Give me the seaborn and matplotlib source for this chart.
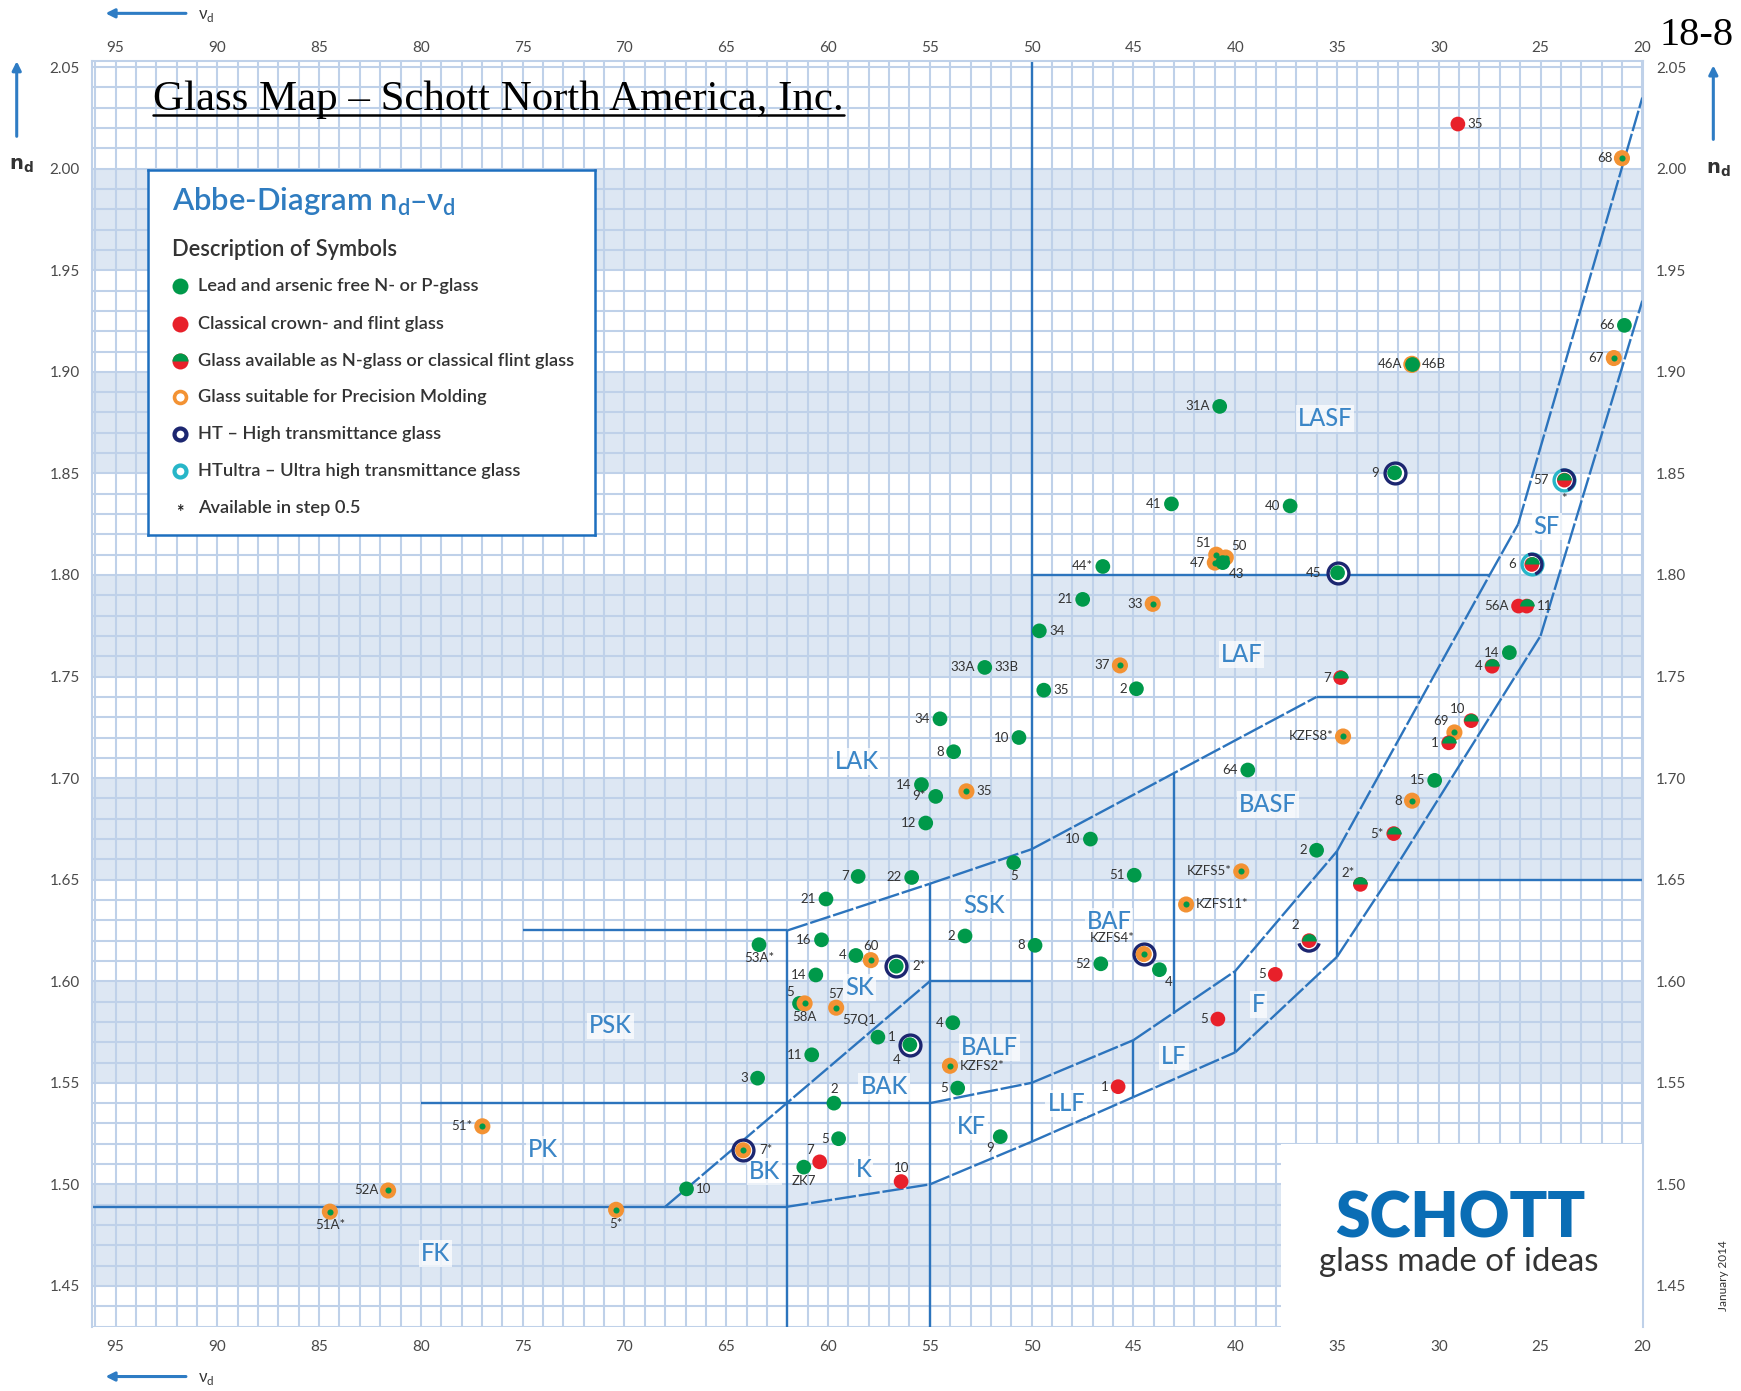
import numpy as np
import pandas as pd
import matplotlib
matplotlib.use("Agg")
import matplotlib.pyplot as plt
import seaborn as sns
from matplotlib.path import Path
from matplotlib.patches import Rectangle, FancyArrowPatch
from matplotlib.lines import Line2D
from matplotlib.ticker import FixedLocator, MultipleLocator, FormatStrFormatter

# ---------------------------------------------------------------- data
vd_ticks = [95, 90, 85, 80, 75, 70, 65, 60, 55, 50, 45, 40, 35, 30, 25, 20]
nd_ticks = [1.45, 1.50, 1.55, 1.60, 1.65, 1.70, 1.75, 1.80, 1.85, 1.90, 1.95, 2.00, 2.05]
band_starts = [1.45, 1.55, 1.65, 1.75, 1.85, 1.95]

glass_label = ["35", "68", "66", "67", "46A", "31A", "9", "57", "41", "40", "44*",
               "51", "47", "50", "43", "45", "6", "56A", "11", "21", "33", "34", "14",
               "4", "33A", "37", "7", "35", "2", "34", "10", "69", "1", "KZFS8*", "10",
               "8", "64", "15", "14", "9*", "35", "8", "12", "5*", "10", "2", "5", "7",
               "22", "KZFS5*", "51", "2*", "21", "KZFS11*", "2", "16", "53A*", "8", "2",
               "4", "60", "2*", "KZFS4*", "52", "4", "14", "5", "5", "58A", "57", "4",
               "5", "1", "4", "11", "KZFS2*", "3", "5", "1", "2", "51*", "9", "5", "7*",
               "7", "ZK7", "10", "10", "52A", "51A*", "5*"]
glass_vd = [29.06, 21.00, 20.88, 21.40, 31.32, 40.76, 32.17, 23.83, 43.13, 37.30, 46.50,
            40.93, 41.00, 40.46, 40.61, 34.97, 25.43, 26.08, 25.68, 47.49, 44.05, 49.62, 26.53,
            27.38, 52.30, 45.66, 34.82, 49.40, 44.85, 54.50, 28.41, 29.23, 29.51, 34.70, 50.62,
            53.83, 39.38, 30.20, 55.41, 54.71, 53.20, 31.31, 55.20, 32.21, 47.11, 36.00, 50.88, 58.52,
            55.89, 39.70, 44.96, 33.85, 60.10, 42.41, 53.27, 60.32, 63.39, 49.83, 36.37,
            58.63, 57.90, 56.65, 44.49, 46.60, 43.72, 60.60, 38.03, 61.40, 61.15, 59.60, 53.87,
            40.85, 57.55, 55.98, 60.80, 54.01, 63.46, 53.63, 45.75, 59.71, 76.98, 51.54, 59.48, 64.17,
            60.41, 61.19, 56.41, 66.95, 81.61, 84.47, 70.41]
glass_nd = [2.0220, 2.0052, 1.9229, 1.9068, 1.9037, 1.8830, 1.8503, 1.8467, 1.8350, 1.8340, 1.8042,
            1.8100, 1.8061, 1.8086, 1.8061, 1.8011, 1.8052, 1.7847, 1.7847, 1.7880, 1.7858, 1.7725, 1.7618,
            1.7551, 1.7545, 1.7555, 1.7495, 1.7433, 1.7440, 1.7292, 1.7283, 1.7225, 1.7174, 1.7205, 1.7200,
            1.7130, 1.7040, 1.6989, 1.6968, 1.6910, 1.6935, 1.6889, 1.6779, 1.6727, 1.6700, 1.6645, 1.6584, 1.6516,
            1.6511, 1.6541, 1.6522, 1.6477, 1.6405, 1.6378, 1.6223, 1.6204, 1.6180, 1.6177, 1.6200,
            1.6127, 1.6104, 1.6074, 1.6134, 1.6086, 1.6057, 1.6031, 1.6034, 1.5891, 1.5891, 1.5870, 1.5796,
            1.5814, 1.5725, 1.5688, 1.5638, 1.5584, 1.5523, 1.5474, 1.5481, 1.5400, 1.5286, 1.5235, 1.5225, 1.5168,
            1.5111, 1.5085, 1.5014, 1.4978, 1.4970, 1.4866, 1.4875]
# N = lead/arsenic free, C = classical, NC = both, P = precision molding, NP = N with molding variant
glass_kind = ["C", "P", "N", "P", "NP", "N", "N", "NC", "N", "N", "N",
              "P", "P", "P", "N", "N", "NC", "C", "NC", "N", "P", "N", "N",
              "NC", "N", "P", "NC", "N", "N", "N", "NC", "P", "NC", "P", "N",
              "N", "N", "N", "N", "N", "P", "P", "N", "NC", "N", "N", "N", "N",
              "N", "P", "N", "NC", "N", "P", "N", "N", "N", "N", "NC",
              "N", "P", "N", "P", "N", "N", "N", "C", "N", "P", "P", "N",
              "C", "N", "N", "N", "P", "N", "N", "C", "N", "P", "N", "N", "P",
              "C", "N", "C", "N", "P", "P", "P"]
# HT = high transmittance, HTU = HT and HTultra, HTb = HT (lower arc)
glass_ring = ["", "", "", "", "", "", "HT", "HTU", "", "", "",
              "", "", "", "", "HT", "HTU", "", "", "", "", "", "",
              "", "", "", "", "", "", "", "", "", "", "", "",
              "", "", "", "", "", "", "", "", "", "", "", "", "",
              "", "", "", "", "", "", "", "", "", "", "HTb",
              "", "", "HT", "HT", "", "", "", "", "", "", "", "",
              "", "", "HT", "", "", "", "", "", "", "", "", "", "HT",
              "", "", "", "", "", "", ""]
label_side = ["r", "l", "l", "l", "l", "l", "l", "l", "l", "l", "l",
              "al", "l", "ar", "br", "l", "l", "l", "r", "l", "l", "r", "l",
              "l", "l", "l", "l", "r", "l", "l", "al", "al", "l", "l", "l",
              "l", "l", "l", "l", "l", "r", "l", "l", "l", "l", "l", "b", "l",
              "l", "l", "l", "al", "l", "r", "l", "l", "b", "l", "al",
              "l", "a", "r", "al", "l", "br", "l", "l", "al", "b", "a", "l",
              "l", "r", "bl", "l", "r", "l", "l", "l", "a", "l", "bl", "l", "r",
              "al", "b", "a", "r", "l", "b", "b"]

extra_label = ["46B", "*", "33B", "57Q1"]
extra_vd = [31.32, 23.83, 52.30, 59.60]
extra_nd = [1.9037, 1.8467, 1.7545, 1.5870]
extra_side = ["r", "b", "r", "br"]

region_name = ["LASF", "LAF", "SF", "BASF", "LAK", "SSK", "BAF", "SK", "PSK", "BALF",
               "BAK", "LF", "F", "LLF", "KF", "PK", "BK", "K", "FK"]
region_vd = [35.6, 39.7, 24.7, 38.4, 58.6, 52.35, 46.2, 58.45, 70.7, 52.05,
             57.25, 43.0, 38.85, 48.3, 52.95, 74.0, 63.1, 58.25, 79.3]
region_nd = [1.877, 1.761, 1.824, 1.687, 1.708, 1.6375, 1.6295, 1.597, 1.578, 1.5673,
             1.5481, 1.5629, 1.5884, 1.540, 1.5284, 1.517, 1.5062, 1.5075, 1.466]

region_boundaries = [
    [(80.0, 1.540), (55.0, 1.540), (50.0, 1.550), (45.0, 1.571), (40.0, 1.605),
     (35.0, 1.664), (27.5, 1.800), (26.1, 1.825), (20.0, 2.035)],
    [(96.15, 1.489), (62.0, 1.489), (55.0, 1.500), (50.0, 1.521), (45.0, 1.543),
     (40.0, 1.565), (35.0, 1.612), (32.5, 1.650), (25.0, 1.770), (20.0, 1.935)],
    [(68.0, 1.489), (55.0, 1.600), (50.0, 1.600)],
    [(75.0, 1.625), (62.0, 1.625), (55.0, 1.648), (50.0, 1.665), (36.0, 1.740), (30.9, 1.740)],
    [(62.0, 1.430), (62.0, 1.625)],
    [(55.0, 1.430), (55.0, 1.648)],
    [(50.0, 1.521), (50.0, 2.053)],
    [(50.0, 1.800), (27.5, 1.800)],
    [(43.0, 1.584), (43.0, 1.702)],
    [(45.0, 1.543), (45.0, 1.571)],
    [(40.0, 1.565), (40.0, 1.605)],
    [(35.0, 1.612), (35.0, 1.664)],
    [(32.5, 1.650), (19.95, 1.650)],
]

legend_title = "Abbe-Diagram n$_\\mathregular{d}$\u2013\u03bd$_\\mathregular{d}$"
legend_sub = "Description of Symbols"
legend_text = ["Lead and arsenic free N- or P-glass",
               "Classical crown- and flint glass",
               "Glass available as N-glass or classical flint glass",
               "Glass suitable for Precision Molding",
               "HT \u2013 High transmittance glass",
               "HTultra \u2013 Ultra high transmittance glass",
               "Available in step 0.5"]

# ---------------------------------------------------------------- style
sns.set_theme(style="white")
plt.rcParams["font.family"] = ["Lato", "DejaVu Sans"]
plt.rcParams["mathtext.fontset"] = "dejavusans"

GREEN = "#00994a"
RED = "#e8202a"
ORANGE = "#f39233"
NAVY = "#1c2670"
CYAN = "#27b6c8"
BAND = "#dde7f3"
GRID = "#bfd1e9"
LINE = "#2c74bd"
REGION = "#3b86c7"
TEXT = "#333333"
TICK = "#4a4a4a"

S_DOT = 10.6 ** 2
S_RING = 15.0 ** 2
TOP_HALF = Path.wedge(0, 180)

fig = plt.figure(figsize=(17.41, 13.91), dpi=100)
fig.patch.set_facecolor("white")
ax = fig.add_axes([0.0529, 0.0463, 0.8910, 0.9098])
ax.set_xlim(96.15, 19.95)
ax.set_ylim(1.430, 2.053)
ax.set_facecolor("white")

for y0 in band_starts:
    ax.axhspan(y0, y0 + 0.05, color=BAND, lw=0, zorder=0.2)

ax.xaxis.set_major_locator(FixedLocator(vd_ticks))
ax.yaxis.set_major_locator(FixedLocator(nd_ticks))
ax.xaxis.set_minor_locator(MultipleLocator(1))
ax.yaxis.set_minor_locator(MultipleLocator(0.01))
ax.yaxis.set_major_formatter(FormatStrFormatter("%.2f"))
ax.set_axisbelow(True)
ax.grid(which="both", color=GRID, lw=1.5)
ax.tick_params(axis="both", which="both", length=0, labelsize=11, labelcolor=TICK)
ax.tick_params(axis="x", top=False, labeltop=False, bottom=True, labelbottom=True, pad=10)
ax.tick_params(axis="y", left=True, labelleft=True, right=True, labelright=True, pad=9)
for side, sp in ax.spines.items():
    sp.set_color(GRID)
    sp.set_linewidth(1.5)
ax.spines["bottom"].set_visible(False)

sec = ax.secondary_xaxis("top")
sec.xaxis.set_major_locator(FixedLocator(vd_ticks))
sec.tick_params(length=0, labelsize=11, labelcolor=TICK, pad=4.5)
sec.spines["top"].set_visible(False)

# white box behind the logo
ax.add_patch(Rectangle((19.95, 1.40), 37.75 - 19.95, 1.52 - 1.40, facecolor="white",
                       edgecolor="none", zorder=1.0))

# region boundaries
for poly in region_boundaries:
    for (x0, y0), (x1, y1) in zip(poly[:-1], poly[1:]):
        straight = (x0 == x1) or (y0 == y1)
        ax.plot([x0, x1], [y0, y1], color=LINE, lw=1.7, zorder=2,
                linestyle="-" if straight else (0, (9, 1.2)), solid_capstyle="butt")

# region names
for name, x, y in zip(region_name, region_vd, region_nd):
    ax.text(x, y, name, ha="center", va="center", color=REGION, fontsize=17,
            fontweight="medium", zorder=2.5,
            bbox=dict(boxstyle="square,pad=0.08", fc="white", ec="none", alpha=0.7))

# glasses
df = pd.DataFrame(dict(label=glass_label, vd=glass_vd, nd=glass_nd, kind=glass_kind,
                       ring=glass_ring, side=label_side))

ht = df[df.ring == "HT"]
ax.scatter(ht.vd, ht.nd, s=S_RING, facecolors="white", edgecolors=NAVY, linewidths=2.4, zorder=3)
htu = df[df.ring == "HTU"]
ax.scatter(htu.vd, htu.nd, s=S_RING, facecolors="white", edgecolors=CYAN, linewidths=2.4, zorder=3)
ax.scatter(htu.vd, htu.nd, s=S_RING, marker=Path.arc(-70, 110), facecolors="none",
           edgecolors=NAVY, linewidths=2.4, zorder=3.1)
htb = df[df.ring == "HTb"]
ax.scatter(htb.vd, htb.nd, s=S_RING, marker=Path.arc(195, 345), facecolors="none",
           edgecolors=NAVY, linewidths=2.4, zorder=3.1)

pal = {"N": GREEN, "C": RED, "NC": RED, "P": ORANGE, "NP": ORANGE}
sizes = {"N": S_DOT, "C": S_DOT, "NC": S_DOT, "P": 11.6 ** 2, "NP": 12.4 ** 2}
sns.scatterplot(data=df, x="vd", y="nd", hue="kind", palette=pal, size="kind", sizes=sizes,
                linewidth=0, legend=False, ax=ax, zorder=4)
nc = df[df.kind == "NC"]
ax.scatter(nc.vd, nc.nd, s=S_DOT, marker=TOP_HALF, color=GREEN, linewidths=0, zorder=5)
pm = df[df.kind == "P"]
ax.scatter(pm.vd, pm.nd, s=4.4 ** 2, color=GREEN, linewidths=0, zorder=6)
npm = df[df.kind == "NP"]
ax.scatter(npm.vd, npm.nd, s=S_DOT, color=GREEN, linewidths=0, zorder=6)
ax.set_xlabel("")
ax.set_ylabel("")

OFF = {"l": (-1, 0, "right", "center"), "r": (1, 0, "left", "center"),
       "a": (0, 0.8, "center", "bottom"), "b": (0, -0.8, "center", "top"),
       "al": (-0.6, 0.6, "right", "bottom"), "ar": (0.6, 0.6, "left", "bottom"),
       "bl": (-0.6, -0.6, "right", "top"), "br": (0.6, -0.6, "left", "top")}


def put_label(txt, x, y, side, ring):
    d = 11.5 if ring else 7.0
    fx, fy, ha, va = OFF[side]
    ax.annotate(txt, (x, y), xytext=(fx * d, fy * d), textcoords="offset points",
                ha=ha, va=va, fontsize=9.5, color=TEXT, zorder=7)


for r in df.itertuples():
    put_label(r.label, r.vd, r.nd, r.side, r.ring != "")
for t, x, y, s in zip(extra_label, extra_vd, extra_nd, extra_side):
    put_label(t, x, y, s, t == "*")

renderer = fig.canvas.get_renderer()


def fit(t, target_px):
    w = t.get_window_extent(renderer).width
    t.set_fontsize(t.get_fontsize() * target_px / w)


# ---------------------------------------------------------------- legend box
lax = fig.add_axes([0.0848, 0.6153, 0.2570, 0.2626])
lax.set_zorder(5)
lax.set_xlim(0, 1)
lax.set_ylim(0, 1)
lax.set_xticks([])
lax.set_yticks([])
lax.set_facecolor("white")
for sp in lax.spines.values():
    sp.set_color("#1d6fbf")
    sp.set_linewidth(1.8)
t = lax.text(0.055, 0.912, legend_title, color="#2f7cc0", fontsize=20, ha="left", va="center",
             fontweight="semibold")
fit(t, 284)
t = lax.text(0.055, 0.781, legend_sub, color=TEXT, fontsize=13, ha="left", va="center",
             fontweight="semibold")
fit(t, 223)
ys = [0.681, 0.578, 0.477, 0.377, 0.277, 0.176, 0.073]
txts = []
for y, s in zip(ys, legend_text):
    txts.append(lax.text(0.112, y, s, color=TEXT, fontsize=11, ha="left", va="center",
                         fontweight="semibold"))
fit(txts[2], 375)
for tt in txts:
    tt.set_fontsize(txts[2].get_fontsize())
mx = 0.072
lax.scatter([mx], [ys[0]], s=11.5 ** 2, color=GREEN, linewidths=0)
lax.scatter([mx], [ys[1]], s=11.5 ** 2, color=RED, linewidths=0)
lax.scatter([mx], [ys[2]], s=11.5 ** 2, color=RED, linewidths=0)
lax.scatter([mx], [ys[2]], s=11.5 ** 2, marker=TOP_HALF, color=GREEN, linewidths=0)
lax.scatter([mx], [ys[3]], s=8.6 ** 2, facecolors="white", edgecolors=ORANGE, linewidths=2.6)
lax.scatter([mx], [ys[4]], s=8.6 ** 2, facecolors="white", edgecolors=NAVY, linewidths=3.0)
lax.scatter([mx], [ys[5]], s=8.6 ** 2, facecolors="white", edgecolors=CYAN, linewidths=3.0)
lax.text(mx, ys[6] - 0.012, "*", color="#222222", fontsize=13, ha="center", va="center",
         fontweight="bold")

# ---------------------------------------------------------------- figure texts
title = fig.text(0.088, 0.921, "Glass Map \u2013 Schott North America, Inc.",
                 family=["Liberation Serif", "DejaVu Serif"], fontsize=29, color="black",
                 ha="left", va="baseline")
fit(title, 690)
bb = title.get_window_extent(renderer)
uy = 0.921 - 5.0 / 1391
fig.add_artist(Line2D([bb.x0 / 1741, bb.x1 / 1741], [uy, uy], color="black", lw=1.8,
                      transform=fig.transFigure))
t = fig.text(0.996, 0.968, "18-8", family=["Liberation Serif", "DejaVu Serif"], fontsize=26,
             color="black", ha="right", va="baseline")
fit(t, 74)

ARROW = "#2e7cc4"
for (xa, ya), (xb, yb) in [((0.1084, 0.9904), (0.0590, 0.9904)),
                           ((0.1084, 0.0104), (0.0590, 0.0104)),
                           ((0.0096, 0.9000), (0.0096, 0.9580)),
                           ((0.9841, 0.8978), (0.9841, 0.9550))]:
    fig.add_artist(FancyArrowPatch((xa, ya), (xb, yb), transform=fig.transFigure,
                                   arrowstyle="-|>", mutation_scale=13, color=ARROW, lw=2.2))
nu = "\u03bd$_\\mathregular{d}$"
fig.text(0.1135, 0.9885, nu, fontsize=12, color=TEXT, ha="left", va="center")
fig.text(0.1135, 0.0085, nu, fontsize=12, color=TEXT, ha="left", va="center")
nd_lab = "$\\mathbf{n}_{\\mathbf{d}}$"
fig.text(0.0120, 0.881, nd_lab, fontsize=14, color="#333333", ha="center", va="center")
fig.text(0.9870, 0.878, nd_lab, fontsize=14, color="#333333", ha="center", va="center")

fig.text(0.9898, 0.083, "January 2014", rotation=90, fontsize=8.5, color="#333333",
         ha="center", va="center")

t = fig.text(0.8387, 0.1237, "SCHOTT", fontsize=50, fontweight="heavy", color="#0a6db5",
             ha="center", va="center")
fit(t, 251)
t = fig.text(0.838, 0.0926, "glass made of ideas", fontsize=20, color="#333333",
             ha="center", va="center")
fit(t, 280)

fig.savefig("out.png", dpi=100, facecolor="white")
